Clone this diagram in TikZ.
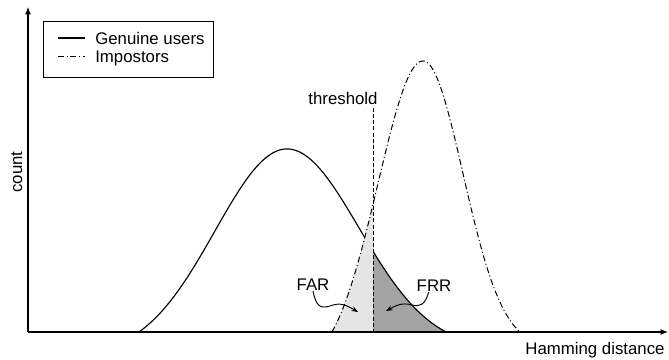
\documentclass[tikz,border=0pt]{standalone}
\usepackage{fontspec}
\setmainfont{Liberation Sans}
\usetikzlibrary{arrows.meta}
\definecolor{lightfill}{gray}{0.90}
\definecolor{darkfill}{gray}{0.64}
\begin{document}
\begin{tikzpicture}[x=0.75pt,y=-0.75pt,
  font=\fontsize{12.6}{15}\selectfont,
  declare function={
    genL(\x)=183*(exp(-((\x-287)/100)^2/1.0368)-0.1209)/0.8791;
    genR(\x)=183*(exp(-((\x-287)/100)^2/1.0368)-0.0873)/0.9127;
    impL(\x)=271*(exp(-((\x-423)/100)^2/0.405)-0.1294)/0.8706;
    impR(\x)=271*(exp(-((\x-423)/100)^2/0.32)-0.0529)/0.9471;
  },
  axisline/.style={line width=0.9pt,-{Latex[length=5.5pt,width=4.5pt]}},
  genline/.style={line width=0.85pt},
  impline/.style={line width=0.75pt,dash pattern=on 4.5pt off 2pt on 0.8pt off 2pt},
  thrline/.style={line width=0.75pt,dash pattern=on 3pt off 1.6pt},
  curlyarrow/.style={line width=0.7pt,-{Stealth[length=5pt,width=3.8pt]}},
  lbl/.style={inner sep=0pt}]
\useasboundingbox (0,0) rectangle (669,360);

% dark region (FRR): under genuine curve right of threshold
\fill[darkfill] (373,332) -- plot[domain=373:446,samples=40] (\x,{332-genR(\x)}) -- cycle;
% genuine curve
\draw[genline] plot[domain=139:287,samples=70] (\x,{332-genL(\x)})
   -- plot[domain=287:446,samples=70] (\x,{332-genR(\x)});
% light region (FAR): under impostor curve left of threshold
\fill[lightfill] (332,332) -- plot[domain=332:373,samples=30] (\x,{332-impL(\x)}) -- (373,332) -- cycle;
% impostor curve
\draw[impline] plot[domain=332:423,samples=70] (\x,{332-impL(\x)})
   -- plot[domain=423:520,samples=70] (\x,{332-impR(\x)});

% threshold
\node[lbl,anchor=base] (thr) at (343,105) {threshold};
\coordinate (thrTop) at (373,108);
\coordinate (thrBot) at (373,332);
\draw[thrline] (thrTop) -- (thrBot);

% axes
\coordinate (origin) at (28,332);
\coordinate (ytip) at (28,7);
\coordinate (xtip) at (668,332);
\draw[axisline] (origin) -- (ytip);
\draw[axisline] (origin) -- (xtip);
\node[lbl,anchor=base] (xlab) at (595,354) {Hamming distance};
\node[lbl,anchor=base,rotate=90] (ylab) at (22,172) {count};

% FAR / FRR
\node[lbl] (far) at (313,285) {FAR};
\node[lbl] (frr) at (434,286) {FRR};
\coordinate (farTip) at (358,312);
\coordinate (frrTip) at (386,311);
\draw[curlyarrow] (far.south) .. controls (316,306) and (320,309) .. (330,306)
   .. controls (340,302) and (346,305) .. (farTip);
\draw[curlyarrow] ([xshift=-4pt]frr.south) .. controls (425,305) and (420,307) .. (412,305)
   .. controls (402,302) and (395,306) .. (frrTip);

% legend
\node[draw,line width=0.6pt,minimum width=127.5pt,minimum height=42pt,inner sep=0pt] (legend) at (128,49) {};
\coordinate (g1) at (58,38);
\coordinate (g2) at (85,38);
\coordinate (i1) at (58,57);
\coordinate (i2) at (85,57);
\draw[genline] (g1) -- (g2);
\draw[impline] (i1) -- (i2);
\node[lbl,anchor=base west] (gtxt) at (95,45) {Genuine users};
\node[lbl,anchor=base west] (itxt) at (95,63) {Impostors};
\end{tikzpicture}
\end{document}
